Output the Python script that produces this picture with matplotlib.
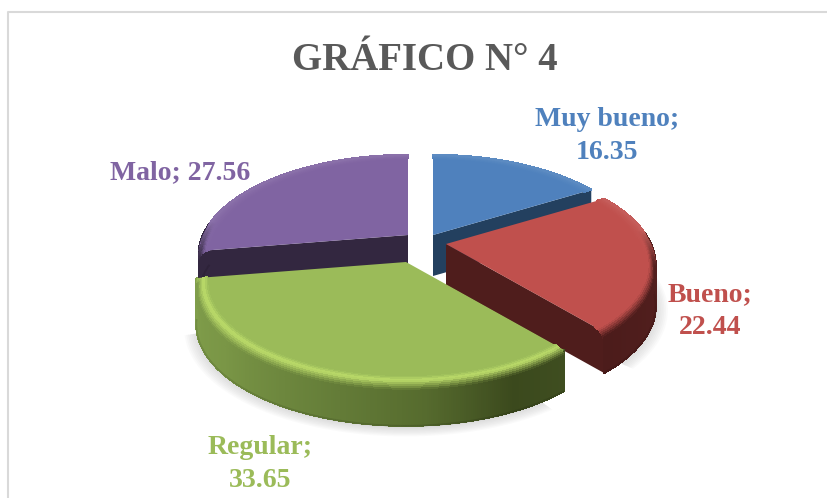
import numpy as np
import matplotlib
matplotlib.use("Agg")
import matplotlib.pyplot as plt
from matplotlib.collections import PolyCollection, LineCollection
from matplotlib.colors import to_rgb

# ---------- data ----------
categories = ["Muy bueno", "Bueno", "Regular", "Malo"]
values = [16.35, 22.44, 33.65, 27.56]
title = "GRÁFICO N° 4"

# ---------- style ----------
top_colors = ["#4f81bd", "#c0504d", "#9bbb59", "#8064a2"]
face_colors = ["#23405f", "#4f1d1c", "#3f4e20", "#332740"]
wall_stops = [
    [(0, "#23405f"), (1, "#23405f")],
    [(0, "#5a2321"), (1, "#4c1c1b")],
    [(0, "#3f4e20"), (0.13, "#3b491d"), (0.3, "#566b2e"), (0.5, "#67803a"), (0.75, "#7a9646"), (1, "#809e4b")],
    [(0, "#332740"), (1, "#332740")],
]
highlight_colors = ["#4f81bd", "#c0504d", "#bcdc6a", "#8064a2"]
origins = [(433, 235), (446, 244), (406, 262), (408, 235)]
label_pos = [(607, 136), (710, 311), (260, 464), (180, 173)]
label_text = ["{};\n{}", "{};\n{}", "{};\n{}", "{}; {}"]
draw_order = [0, 3, 1, 2]
shadow_slices = [1, 2]
# which cut face of each slice can be seen: 0 = first edge, 1 = last edge
cut_face = [1, 1, None, 0]

RX, RY, PERSP = 205, 97, 0.21
DEPTH, BEVEL_DROP, BEVEL_R = 41, 10, 0.95
SERIF = "Liberation Serif"


def project(org, r, th, drop=0.0):
    u, v = r * np.sin(th), r * np.cos(th)
    w = 1 / (1 + PERSP * v)
    return org[0] + RX * u * w, org[1] - RY * v * w + drop


def mix(a, b, t):
    return tuple((1 - t) * np.array(a) + t * np.array(b))


def wall_color(i, frac):
    fr = [s[0] for s in wall_stops[i]]
    cols = [to_rgb(s[1]) for s in wall_stops[i]]
    return tuple(np.interp(frac, fr, [c[k] for c in cols]) for k in range(3))


def quads(ax, polys, colors):
    ax.add_collection(PolyCollection(polys, facecolors=colors, edgecolors=colors,
                                     linewidths=0.8, antialiaseds=False))


def draw_shadow(ax, org, t0, t1):
    th = np.linspace(t0 + 0.12, t1 - 0.12, 100)
    for grow in np.linspace(1.055, 1.0, 8):
        xs, ys = project(org, grow, th, DEPTH + 2)
        ax.fill(np.r_[org[0], xs], np.r_[org[1] + DEPTH, ys], color="#808080", alpha=0.035, lw=0)


def draw_slice(ax, i, t0, t1):
    org = origins[i]
    n = max(12, int(np.degrees(t1 - t0) * 2))
    th = np.linspace(t0, t1, n + 1)
    top = to_rgb(top_colors[i])
    light = to_rgb(highlight_colors[i])

    # radial cut face
    if cut_face[i] is not None:
        x, y = project(org, 1.0, (t0, t1)[cut_face[i]])
        ax.fill([org[0], x, x, org[0]], [org[1], y, y + DEPTH, org[1] + DEPTH],
                color=face_colors[i], lw=0)

    # outer wall, only the part turned to the viewer
    polys, cols, rim, rim_cols = [], [], [], []
    for a, b in zip(th[:-1], th[1:]):
        m = (a + b) / 2
        if np.cos(m) > 0.12:
            continue
        xa, ya = project(org, 1.0, a)
        xb, yb = project(org, 1.0, b)
        c = wall_color(i, (m - t0) / (t1 - t0))
        polys.append([(xa, ya), (xb, yb), (xb, yb + DEPTH), (xa, ya + DEPTH)])
        cols.append(c)
        rim.append([(xa, ya + DEPTH), (xb, yb + DEPTH)])
        rim_cols.append(mix(c, (0, 0, 0), 0.12))
    if polys:
        quads(ax, polys, cols)
        # lines default to zorder 2, keep them in painter order with the fills
        ax.add_collection(LineCollection(rim, colors=rim_cols, linewidths=1.2, zorder=1))

    # top surface
    xs, ys = project(org, 1.0, th)
    ax.fill(np.r_[org[0], xs], np.r_[org[1], ys], color=top, lw=0)

    # rounded shoulder between top and wall
    steps = np.linspace(0, 1, 11)
    polys, cols = [], []
    for s0, s1 in zip(steps[:-1], steps[1:]):
        r0 = BEVEL_R + (1 - BEVEL_R) * np.sin(s0 * np.pi / 2)
        r1 = BEVEL_R + (1 - BEVEL_R) * np.sin(s1 * np.pi / 2)
        d0, d1 = BEVEL_DROP * s0 ** 2, BEVEL_DROP * s1 ** 2
        for a, b in zip(th[:-1], th[1:]):
            m = (a + b) / 2
            front = np.clip((0.15 - np.cos(m)) / 0.3, 0, 1)
            # back-facing part stays flat with the top surface
            xa0, ya0 = project(org, r0, a, d0 * front)
            xb0, yb0 = project(org, r0, b, d0 * front)
            xa1, ya1 = project(org, r1, a, d1 * front)
            xb1, yb1 = project(org, r1, b, d1 * front)
            polys.append([(xa0, ya0), (xb0, yb0), (xb1, yb1), (xa1, ya1)])
            sm = (s0 + s1) / 2
            if sm < 0.3:
                front_col = mix(top, light, sm / 0.3)
            else:
                front_col = mix(light, wall_color(i, (m - t0) / (t1 - t0)), min(1, (sm - 0.3) / 0.5))
            back_col = mix(top, (1, 1, 1), 0.08 * sm)
            cols.append(mix(back_col, front_col, front))
    quads(ax, polys, cols)

    # clean antialiased edge along the back of the slice
    keep = np.cos(th) > 0.1
    ax.plot(xs[keep], ys[keep], color=mix(top, (1, 1, 1), 0.08), lw=0.8, zorder=1)


fig = plt.figure(figsize=(8.27, 4.98), dpi=100)
ax = fig.add_axes([0, 0, 1, 1])
ax.set_xlim(0, 827)
ax.set_ylim(498, 0)
ax.axis("off")

# chart frame
ax.plot([8, 8, 827], [498, 12, 12], color="#d9d9d9", lw=1.5)

# value -> angle, clockwise from 12 o'clock
edges = np.r_[0, np.cumsum(values)] / np.sum(values) * 2 * np.pi

for i in shadow_slices:
    draw_shadow(ax, origins[i], edges[i], edges[i + 1])
for i in draw_order:
    draw_slice(ax, i, edges[i], edges[i + 1])

ax.text(425, 60, title, ha="center", va="center", family=SERIF,
        fontweight="bold", fontsize=28, color="#595959")

for i, cat in enumerate(categories):
    ax.text(label_pos[i][0], label_pos[i][1], label_text[i].format(cat, values[i]),
            ha="center", va="center", multialignment="center", family=SERIF,
            fontweight="bold", fontsize=20, linespacing=1.4, color=top_colors[i])

fig.savefig("out.png", dpi=100)
plt.close(fig)
